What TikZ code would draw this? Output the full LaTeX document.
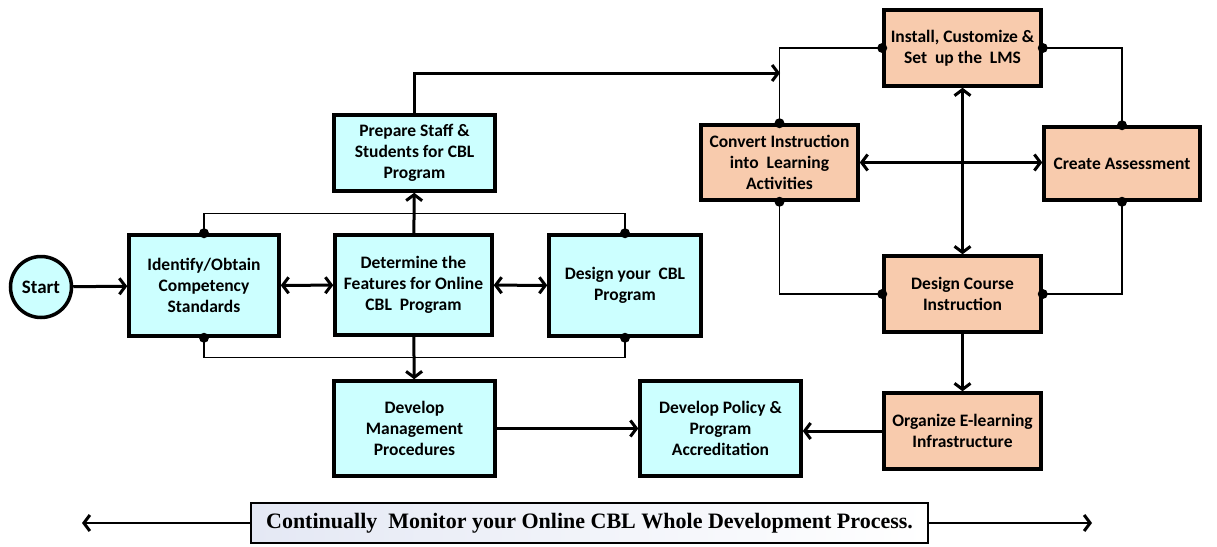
\documentclass[tikz,border=0pt]{standalone}
\usepackage{fontspec}
\setmainfont{Carlito}
\newfontfamily\monfont{Liberation Serif}
\usetikzlibrary{arrows.meta,calc}
\definecolor{cyanfill}{HTML}{CCFFFF}
\definecolor{orangefill}{HTML}{F8CBAD}
\definecolor{monleft}{RGB}{228,232,244}
\tikzset{
  box/.style={draw, line width=3.5pt, align=center, inner sep=2pt,
    font=\fontsize{17.5}{21}\selectfont\bfseries},
  cbox/.style={box, fill=cyanfill},
  obox/.style={box, fill=orangefill},
  flow/.style={line width=3pt, -{Straight Barb[length=6pt,width=16pt,line width=3pt]}},
  bflow/.style={line width=3pt, {Straight Barb[length=6pt,width=16pt,line width=3pt]}-{Straight Barb[length=6pt,width=16pt,line width=3pt]}},
  link/.style={line width=1.2pt},
  dotmark/.style={circle, fill=black, inner sep=0pt, minimum size=10pt},
}
\begin{document}
\begin{tikzpicture}[x=1pt,y=-1pt]
\useasboundingbox (0,0) rectangle (1217,546);
% left group
\node[circle, draw, line width=3.5pt, fill=cyanfill, minimum size=61pt, inner sep=0pt,
  font=\fontsize{19}{22}\selectfont\bfseries] (start) at (41,287) {Start};
\node[cbox, minimum width=150pt, minimum height=101pt] (ident) at (204,285.5) {Identify/Obtain\\Competency\\Standards};
\node[cbox, minimum width=157pt, minimum height=100pt] (determ) at (413.5,285) {Determine the\\Features for Online\\CBL~ Program};
\node[cbox, minimum width=152pt, minimum height=101pt] (design) at (625,285.5) {Design your~ CBL\\Program};
\node[cbox, minimum width=161pt, minimum height=76pt] (prepare) at (414.5,153) {Prepare Staff \&\\Students for CBL\\Program};
\node[cbox, minimum width=161pt, minimum height=95pt] (mgmt) at (414.5,428.5) {Develop\\Management\\Procedures};
\node[cbox, minimum width=161pt, minimum height=95pt] (policy) at (720.5,428.5) {Develop Policy \&\\Program\\Accreditation};
% right group
\node[obox, minimum width=157pt, minimum height=76pt] (install) at (962.5,48) {Install, Customize \&\\Set~ up the~ LMS};
\node[obox, minimum width=157pt, minimum height=75pt] (convert) at (779.5,162.5) {Convert Instruction\\into~ Learning\\Activities};
\node[obox, minimum width=156pt, minimum height=73pt] (create) at (1122,163.5) {Create Assessment};
\node[obox, minimum width=157pt, minimum height=76pt] (course) at (962.5,294) {Design Course\\Instruction};
\node[obox, minimum width=157pt, minimum height=76pt] (organize) at (962.5,431) {Organize E-learning\\Infrastructure};
% monitor bar
\node[draw, line width=1.5pt, left color=monleft, right color=white, minimum width=677pt, minimum height=40pt, inner sep=0pt,
  font=\monfont\fontsize{22}{26}\selectfont\bfseries] (monitor) at (589.5,523) {Continually~ Monitor your Online CBL Whole Development Process.};
\coordinate (monL) at (82,523);
\coordinate (monR) at (1092,523);
\draw[flow, line width=2.4pt] (monitor.west) -- (monL);
\draw[flow, line width=2.4pt] (monitor.east) -- (monR);
% thin links
\draw[link] (ident.north) -- ++(0,-20) -| (design.north);
\draw[link] (ident.south) -- ++(0,20) -| (design.south);
\draw[link] (install.west) -| (convert.north);
\draw[link] (install.east) -| (create.north);
\draw[link] (convert.south) |- (course.west);
\draw[link] (create.south) |- (course.east);
\foreach \p in {ident.north, ident.south, design.north, design.south, install.west, install.east, convert.north, convert.south, create.north, create.south, course.west, course.east}
  \node[dotmark] at (\p) {};
% thick flows
\draw[flow] (start) -- (ident);
\draw[bflow] (ident) -- (determ);
\draw[bflow] (determ) -- (design);
\draw[flow] (determ) -- (prepare);
\draw[flow] (determ) -- (mgmt);
\draw[flow] (mgmt.east) -- (mgmt.east -| policy.west);
\draw[flow] (organize.west) -- (organize.west -| policy.east);
\coordinate (lmsin) at (780,73);
\draw[flow] (prepare.north) |- (lmsin);
\draw[bflow] (install) -- (course);
\draw[bflow] (convert.east) -- (convert.east -| create.west);
\draw[flow] (course) -- (organize);
\end{tikzpicture}
\end{document}
